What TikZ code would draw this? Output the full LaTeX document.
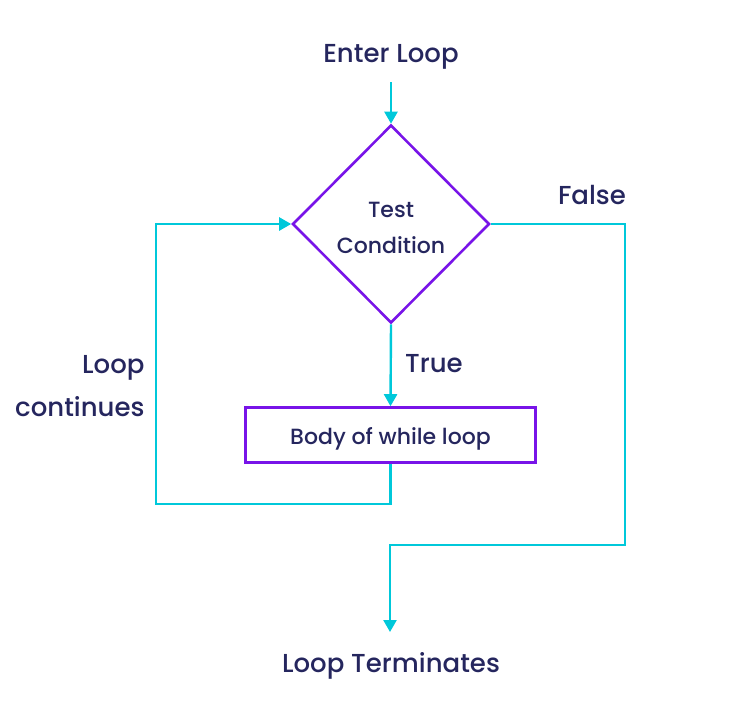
\documentclass[tikz,border=0pt]{standalone}
\usepackage{fontspec}
\setmainfont{Poppins}[UprightFont={Poppins Medium}]
\usetikzlibrary{arrows.meta,shapes.geometric}
\definecolor{ink}{RGB}{37,38,94}
\definecolor{flow}{RGB}{0,200,218}
\definecolor{edge}{RGB}{120,20,232}
\begin{document}
\begin{tikzpicture}
	[x=1pt,y=-1pt,every node/.style={text=ink,font=\fontsize{26}{30}\selectfont},
	 link/.style={draw=flow,line width=2.4pt},
	 go/.style={link,-{Triangle[width=13pt,length=12pt]}},
	 test/.style={diamond,draw=edge,line width=2.6pt,minimum width=197pt,minimum height=198pt,inner sep=0pt,aspect=1,font=\fontsize{22}{36}\selectfont,align=center},
	 body/.style={rectangle,draw=edge,line width=2.6pt,minimum width=290pt,minimum height=55pt,font=\fontsize{22}{26}\selectfont}]
	\useasboundingbox (0,0) rectangle (736,716);
	\node (enter) at (391,57) {Enter Loop};
	\coordinate (top) at (391,82);
	\node[test] (cond) at (391,224) {};
	\node[font=\fontsize{22}{36}\selectfont,align=center] (txt) at (391,228) {Test\\Condition};
	\node (false) at (592,195) {False};
	\node (true) at (434,364) {True};
	\node[body] (loop) at (390.5,435) {};
	\node[font=\fontsize{22}{26}\selectfont] (ltxt) at (390.5,438.5) {Body of while loop};
	\node[align=right,font=\fontsize{26}{43}\selectfont,anchor=east] (cont) at (148,386) {Loop\\continues};
	\node (term) at (391,666) {Loop Terminates};
	
	\coordinate (b1) at (390.5,504);
	\coordinate (b2) at (156,504);
	\coordinate (b3) at (156,224);
	\coordinate (f1) at (625,224);
	\coordinate (f2) at (625,545);
	\coordinate (f3) at (390,545);
	\coordinate (f4) at (390,632);
	
	\draw[go] (top) -- (cond.north);
	\draw[go] (cond.south) -- (loop.north);
	\draw[go] (loop.south) -- (b1) -- (b2) -- (b3) -- (cond.west);
	\draw[go] (cond.east) -- (f1) -- (f2) -- (f3) -- (f4);
\end{tikzpicture}
\end{document}
